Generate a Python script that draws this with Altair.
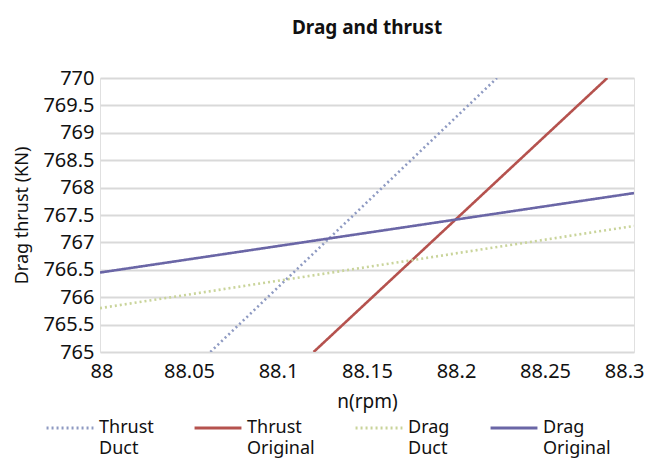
import altair as alt
import pandas as pd

series_names = ["Thrust Duct", "Thrust Original", "Drag Duct", "Drag Original"]
series_colors = ["#8E9AC2", "#B5524E", "#C9D49A", "#6A66A6"]
series_dash = [[2, 3], [1, 0], [2, 3], [1, 0]]

thrust_duct_x = [88.062, 88.223]
thrust_duct_y = [765.0, 770.0]
thrust_original_x = [88.12, 88.285]
thrust_original_y = [765.0, 770.0]
drag_duct_x = [88.0, 88.3]
drag_duct_y = [765.8, 767.3]
drag_original_x = [88.0, 88.3]
drag_original_y = [766.45, 767.9]

x_ticks = [88.0, 88.05, 88.1, 88.15, 88.2, 88.25, 88.3]
y_ticks = [765.0, 765.5, 766.0, 766.5, 767.0, 767.5, 768.0, 768.5, 769.0, 769.5, 770.0]

rows = []
for name, xs, ys in [
    ("Thrust Duct", thrust_duct_x, thrust_duct_y),
    ("Thrust Original", thrust_original_x, thrust_original_y),
    ("Drag Duct", drag_duct_x, drag_duct_y),
    ("Drag Original", drag_original_x, drag_original_y),
]:
    for i, (xv, yv) in enumerate(zip(xs, ys)):
        rows.append({"series": name, "n": xv, "v": yv, "order": i})
df = pd.DataFrame(rows)

FONT = "Noto Sans"

chart = alt.Chart(df).mark_line(strokeWidth=2.6, clip=True).encode(
    x=alt.X("n:Q",
            scale=alt.Scale(domain=[88.0, 88.3], nice=False, zero=False),
            axis=alt.Axis(title="n(rpm)", values=x_ticks, grid=False, ticks=False,
                          domain=False,
                          labelExpr="format(datum.value, '.2~f')",
                          labelFontSize=20, titleFontSize=19, titleFontWeight="normal",
                          labelPadding=9, titlePadding=11, labelColor="#111",
                          titleColor="#111", labelFlush=True, labelFlushOffset=10)),
    y=alt.Y("v:Q",
            scale=alt.Scale(domain=[765, 770], nice=False, zero=False),
            axis=alt.Axis(title="Drag thrust (KN)", values=y_ticks, grid=True,
                          gridColor="#D9D9D9", gridWidth=2, ticks=False, domain=False,
                          labelExpr="format(datum.value, '.1~f')",
                          labelFontSize=20, titleFontSize=18, titleFontWeight="normal",
                          labelPadding=6, titlePadding=11, labelColor="#111",
                          titleColor="#111")),
    color=alt.Color("series:N",
                    scale=alt.Scale(domain=series_names, range=series_colors),
                    legend=alt.Legend(title=None, orient="none", legendX=-55, legendY=325,
                                      direction="horizontal", columns=4,
                                      symbolType="stroke", symbolSize=2200,
                                      symbolStrokeWidth=3, labelFontSize=18,
                                      labelExpr="split(datum.label, ' ')",
                                      columnPadding=34, labelOffset=4,
                                      labelColor="#111")),
    strokeDash=alt.StrokeDash("series:N",
                              scale=alt.Scale(domain=series_names, range=series_dash),
                              legend=None),
    order="order:Q",
).properties(
    width=534, height=274,
    title=alt.TitleParams("Drag and thrust", fontSize=19, fontWeight="bold",
                          font=FONT, color="#111", offset=30, anchor="middle"),
    autosize=alt.AutoSizeParams(type="none"),
    padding={"left": 92, "top": 70, "right": 10, "bottom": 108},
).configure(
    font=FONT,
    style={"guide-label": {"lineHeight": 21}},
).configure_view(stroke="#E0E0E0", strokeWidth=1)

chart.save("out.html", embed_options={"renderer": "svg", "actions": False})
